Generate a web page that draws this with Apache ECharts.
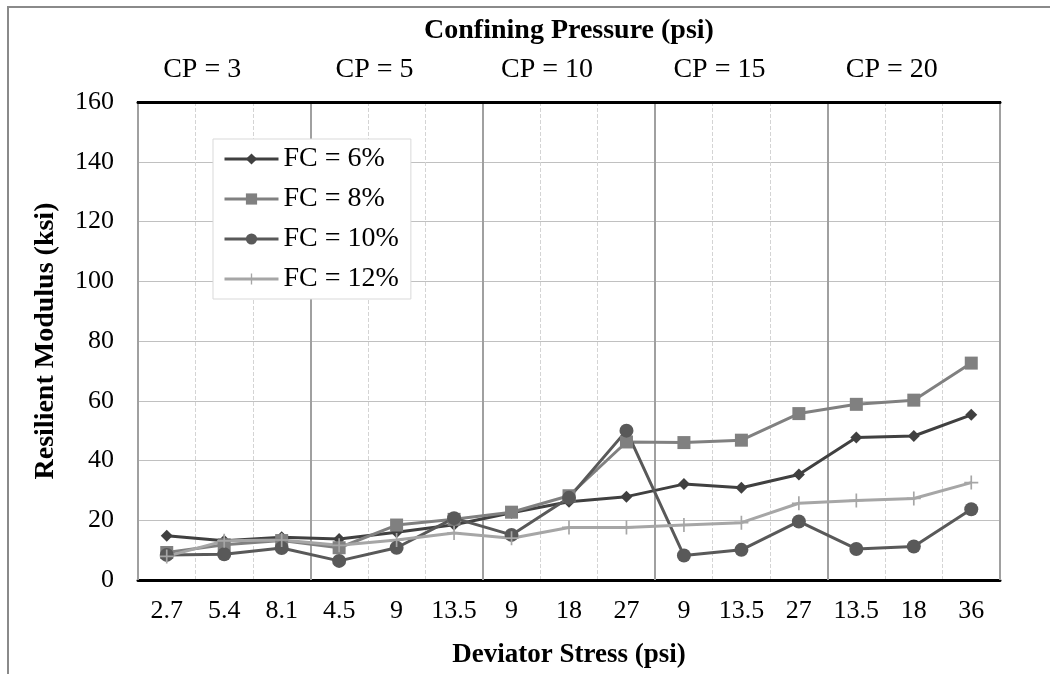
<!DOCTYPE html>
<html>
<head>
<meta charset="utf-8">
<script src="https://cdn.jsdelivr.net/npm/echarts@6/dist/echarts.min.js"></script>
<style>
  html, body { margin: 0; background: #fff; }
  #main { width: 1050px; height: 674px; }
</style>
</head>
<body>
<div id="main"></div>
<script>
// data
var stressLabels = ['2.7', '5.4', '8.1', '4.5', '9', '13.5', '9', '18', '27', '9', '13.5', '27', '13.5', '18', '36'];
var cpLabels = ['CP = 3', 'CP = 5', 'CP = 10', 'CP = 15', 'CP = 20'];
var fc6 = [14.8, 13.1, 14.3, 13.7, 16.0, 18.5, 22.5, 26.2, 27.9, 32.1, 30.9, 35.3, 47.7, 48.2, 55.3];
var fc8 = [9.2, 11.8, 13.2, 10.8, 18.4, 20.3, 22.7, 28.2, 46.2, 46.0, 46.8, 55.7, 58.8, 60.2, 72.6];
var fc10 = [8.4, 8.6, 10.7, 6.4, 10.8, 20.7, 15.1, 27.5, 50.0, 8.2, 10.1, 19.6, 10.4, 11.2, 23.7];
var fc12 = [7.9, 13.1, 13.4, 11.6, 13.4, 15.7, 14.0, 17.6, 17.6, 18.4, 19.2, 25.7, 26.6, 27.3, 32.6];

var serif = "'Liberation Serif', 'Times New Roman', serif";
var plus = 'path://M4.4,0h1.2v4.4h4.4v1.2h-4.4v4.4h-1.2v-4.4h-4.4v-1.2h4.4z';

// helper axis: two half slots per category so the dashed grid sits on each category centre
var halfSlots = [];
stressLabels.forEach(function(s){ halfSlots.push('', ''); });

var chart = echarts.init(document.getElementById('main'));

function line(name, data, color, symbol, size) {
  return {
    name: name,
    type: 'line',
    data: data,
    symbol: symbol,
    symbolSize: size,
    showSymbol: true,
    lineStyle: { color: color, width: 3 },
    itemStyle: { color: color },
    z: 5
  };
}

chart.setOption({
  animation: false,
  textStyle: { fontFamily: serif },
  graphic: [{
    type: 'rect',
    shape: { x: 8, y: 7, width: 1100, height: 700 },
    style: { fill: 'none', stroke: '#8a8a8a', lineWidth: 2 },
    silent: true
  }],
  grid: {
    left: 138, right: 50, top: 102, bottom: 92,
    show: true, borderColor: '#000', borderWidth: 2
  },
  legend: {
    orient: 'vertical',
    left: 213, top: 139,
    padding: [6, 12, 6, 10],
    itemWidth: 54, itemHeight: 14,
    itemGap: 12,
    backgroundColor: '#fff',
    borderColor: '#d9d9d9', borderWidth: 1,
    lineStyle: { width: 3 },
    textStyle: { fontFamily: serif, fontSize: 28, color: '#000', lineHeight: 28 },
    data: ['FC = 6%', 'FC = 8%', 'FC = 10%', 'FC = 12%']
  },
  xAxis: [{
    type: 'category',
    data: stressLabels,
    boundaryGap: true,
    position: 'bottom',
    name: 'Deviator Stress (psi)',
    nameLocation: 'middle',
    nameGap: 62,
    nameTextStyle: { fontFamily: serif, fontSize: 27, fontWeight: 'bold', color: '#000' },
    axisLine: { lineStyle: { color: '#000', width: 3 } },
    axisTick: { show: false },
    axisLabel: { fontFamily: serif, fontSize: 26, color: '#000', margin: 18, interval: 0 },
    splitLine: { show: false }
  }, {
    type: 'category',
    data: cpLabels,
    boundaryGap: true,
    position: 'top',
    name: 'Confining Pressure (psi)',
    nameLocation: 'middle',
    nameGap: 57,
    nameTextStyle: { fontFamily: serif, fontSize: 28, fontWeight: 'bold', color: '#000' },
    axisLine: { lineStyle: { color: '#000', width: 3 } },
    axisTick: { show: false },
    axisLabel: { fontFamily: serif, fontSize: 28, color: '#000', margin: 18, interval: 0, padding: [0, 44, 0, 0] },
    splitLine: { show: true, interval: 0, lineStyle: { color: '#a0a0a0', width: 2 } },
    z: 3
  }, {
    type: 'category',
    data: halfSlots,
    boundaryGap: true,
    position: 'bottom',
    axisLine: { show: false },
    axisTick: { show: false },
    axisLabel: { show: false },
    splitLine: {
      show: true,
      interval: function(i){ return i % 2 === 0; },
      lineStyle: { color: '#d4d4d4', type: 'dashed', width: 1 }
    }
  }],
  yAxis: {
    type: 'value',
    min: 0, max: 160, interval: 20,
    name: 'Resilient Modulus (ksi)',
    nameLocation: 'middle',
    nameGap: 78,
    nameTextStyle: { fontFamily: serif, fontSize: 28, fontWeight: 'bold', color: '#000' },
    axisLine: { show: true, lineStyle: { color: '#000', width: 2 } },
    axisTick: { show: false },
    axisLabel: { fontFamily: serif, fontSize: 26, color: '#000', margin: 24 },
    splitLine: { lineStyle: { color: '#c0c0c0', width: 1 } }
  },
  series: [
    line('FC = 6%', fc6, '#404040', 'diamond', 12),
    line('FC = 8%', fc8, '#808080', 'rect', 13),
    line('FC = 10%', fc10, '#595959', 'circle', 14),
    line('FC = 12%', fc12, '#a6a6a6', plus, 14)
  ]
});
</script>
</body>
</html>
